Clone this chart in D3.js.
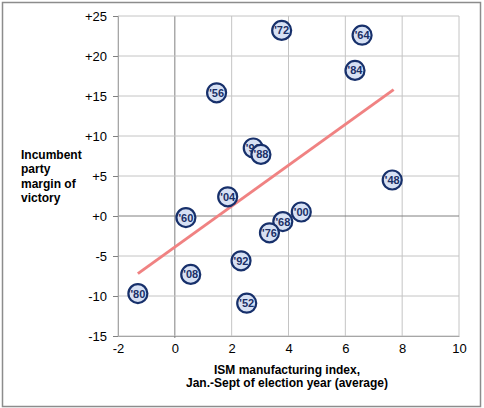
<!DOCTYPE html>
<html>
<head>
<meta charset="utf-8">
<script src="https://cdn.jsdelivr.net/npm/d3@7"></script>
<style>
  html, body { margin: 0; padding: 0; background: #fff; }
  svg { display: block; font-family: "Liberation Sans", Arial, sans-serif; }
</style>
</head>
<body>
<div id="chart"></div>
<script>
// election years, ISM index (x) and incumbent party margin (y)
const years = ["'48", "'52", "'56", "'60", "'64", "'68", "'72", "'76", "'80", "'84", "'96", "'88", "'92", "'00", "'04", "'08"];
const ismValues = [7.65, 2.53, 1.47, 0.39, 6.59, 3.8, 3.76, 3.33, -1.3, 6.34, 2.76, 3.03, 2.33, 4.45, 1.86, 0.56];
const marginValues = [4.5, -10.9, 15.4, -0.2, 22.6, -0.7, 23.2, -2.1, -9.7, 18.2, 8.5, 7.7, -5.6, 0.5, 2.4, -7.3];
// trend line end points
const trendX = [-1.3, 7.7];
const trendY = [-7.2, 15.8];
const xTicks = [-2, 0, 2, 4, 6, 8, 10];
const yTicks = [-15, -10, -5, 0, 5, 10, 15, 20, 25];

const W = 484, H = 408;
const margin = {left: 118, right: 25, top: 16, bottom: 72};

const svg = d3.select("#chart").append("svg")
  .attr("width", W)
  .attr("height", H);

// outer frame
svg.append("rect")
  .attr("x", 2.5).attr("y", 2.5)
  .attr("width", W - 6).attr("height", H - 4)
  .attr("fill", "#fff")
  .attr("stroke", "#8c8c8c")
  .attr("stroke-width", 1.5);

const x = d3.scaleLinear().domain([-2, 10]).range([margin.left, W - margin.right]);
const y = d3.scaleLinear().domain([-15, 25]).range([H - margin.bottom, margin.top]);

// gridlines
svg.append("g").selectAll("line")
  .data(xTicks)
  .enter().append("line")
  .attr("x1", d => x(d)).attr("x2", d => x(d))
  .attr("y1", y(-15)).attr("y2", y(25))
  .attr("stroke", d => d === 0 ? "#808080" : "#c4c4c4")
  .attr("stroke-width", 1);

svg.append("g").selectAll("line")
  .data(yTicks)
  .enter().append("line")
  .attr("x1", x(-2)).attr("x2", x(10))
  .attr("y1", d => y(d)).attr("y2", d => y(d))
  .attr("stroke", d => d === 0 ? "#808080" : "#c4c4c4")
  .attr("stroke-width", 1);

// axes with labels (plain hyphen for negatives, like the original)
const yAxis = svg.append("g")
  .attr("transform", `translate(${x(-2)},0)`)
  .call(d3.axisLeft(y).tickValues(yTicks).tickSize(5).tickPadding(6)
    .tickFormat(d => d >= 0 ? "+" + d : String(d)));
const xAxis = svg.append("g")
  .attr("transform", `translate(0,${y(-15)})`)
  .call(d3.axisBottom(x).tickValues(xTicks).tickSize(0).tickPadding(8)
    .tickFormat(d => String(d)));

[yAxis, xAxis].forEach(a => {
  a.select(".domain").attr("stroke", "#a6a6a6");
  a.selectAll(".tick line").attr("stroke", "#808080");
  a.selectAll("text")
    .attr("fill", "#000")
    .attr("font-size", 13)
    .attr("font-family", "Liberation Sans, Arial, sans-serif");
});

// small tick under the x=0 axis
svg.append("line")
  .attr("x1", x(0)).attr("x2", x(0))
  .attr("y1", y(-15)).attr("y2", y(-15) + 2)
  .attr("stroke", "#808080");

// trend line
svg.append("line")
  .attr("x1", x(trendX[0])).attr("y1", y(trendY[0]))
  .attr("x2", x(trendX[1])).attr("y2", y(trendY[1]))
  .attr("stroke", "#f08282")
  .attr("stroke-width", 3);

// points
const pts = svg.append("g").selectAll("g")
  .data(years.map((yr, i) => ({yr: yr, x: ismValues[i], y: marginValues[i]})))
  .enter().append("g")
  .attr("transform", d => `translate(${x(d.x)},${y(d.y)})`);

pts.append("circle")
  .attr("r", 9.5)
  .attr("fill", "#d7e1f4")
  .attr("stroke", "#17306b")
  .attr("stroke-width", 2.2);

pts.append("text")
  .attr("text-anchor", "middle")
  .attr("dy", "0.36em")
  .attr("font-size", 11)
  .attr("font-weight", "bold")
  .attr("fill", "#1a2f66")
  .text(d => d.yr);

// y axis title
const yTitle = ["Incumbent", "party", "margin of", "victory"];
svg.append("text")
  .attr("x", 21).attr("y", 159)
  .attr("font-size", 12)
  .attr("font-weight", "bold")
  .selectAll("tspan")
  .data(yTitle)
  .enter().append("tspan")
  .attr("x", 21)
  .attr("dy", (d, i) => i === 0 ? 0 : 14.3)
  .text(d => d);

// x axis title
const xTitle = ["ISM manufacturing index,", "Jan.-Sept of election year (average)"];
svg.append("text")
  .attr("text-anchor", "middle")
  .attr("font-size", 12)
  .attr("font-weight", "bold")
  .selectAll("tspan")
  .data(xTitle)
  .enter().append("tspan")
  .attr("x", 287)
  .attr("y", (d, i) => 374 + i * 13)
  .text(d => d);
</script>
</body>
</html>
